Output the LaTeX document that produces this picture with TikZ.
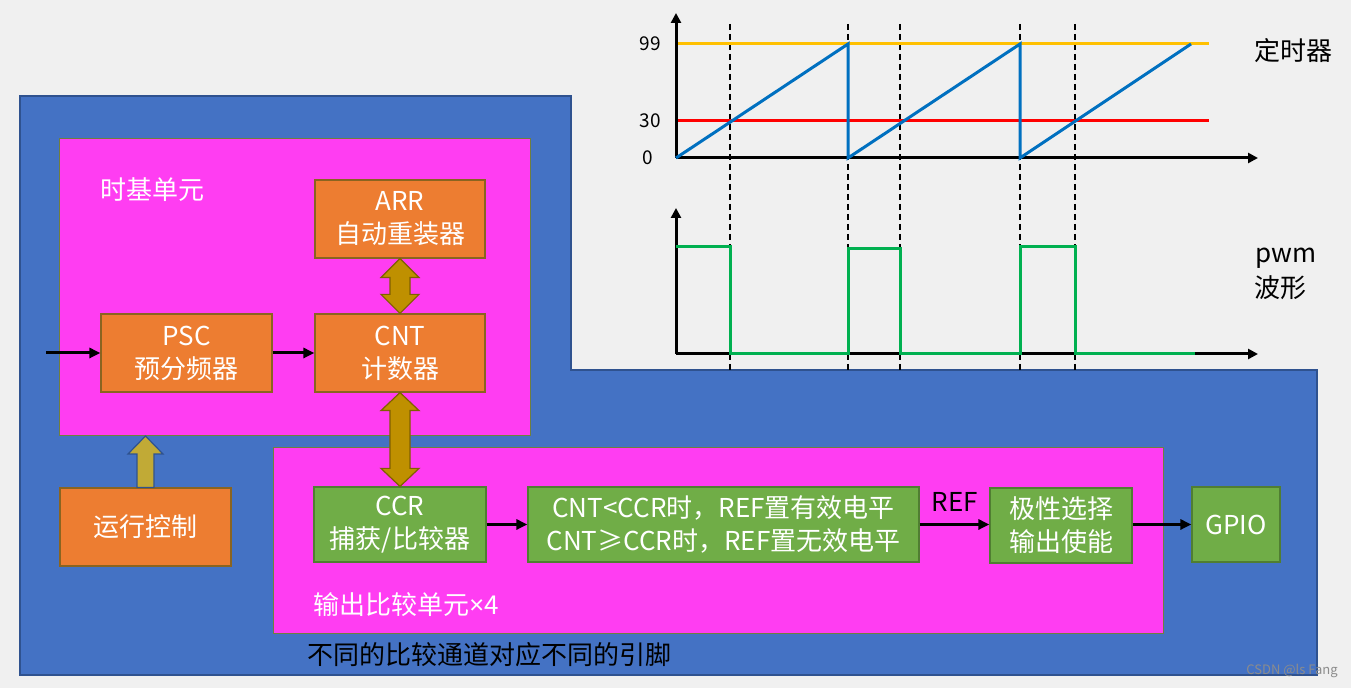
\documentclass[tikz,border=0pt]{standalone}
\usepackage{fontspec}
\setmainfont{Noto Sans CJK SC}
\newfontfamily\latinf{Noto Sans}
\usetikzlibrary{calc,arrows.meta}
\definecolor{bgc}{HTML}{F0F0F0}
\definecolor{blueC}{HTML}{4472C4}
\definecolor{blueD}{HTML}{2F528F}
\definecolor{pinkC}{HTML}{FF3DF2}
\definecolor{pinkD}{HTML}{6F7F3F}
\definecolor{orangeC}{HTML}{ED7D31}
\definecolor{orangeD}{HTML}{8A6420}
\definecolor{greenC}{HTML}{70AD47}
\definecolor{greenD}{HTML}{507E32}
\definecolor{goldC}{HTML}{BF9000}
\definecolor{goldD}{HTML}{7F6000}
\definecolor{oliveC}{HTML}{C1AA36}
\definecolor{yelC}{HTML}{FFC000}
\definecolor{sawC}{HTML}{0070C0}
\definecolor{pwmC}{HTML}{00B050}
\tikzset{
  pinkbox/.style={draw=pinkD, fill=pinkC, line width=0.5pt, anchor=north west, inner sep=0pt},
  obox/.style={draw=orangeD, fill=orangeC, line width=0.6pt, text=white, align=center, inner sep=0pt,
    font=\fontsize{13}{16.5}\selectfont},
  gbox/.style={draw=greenD, fill=greenC, line width=0.6pt, text=white, align=center, inner sep=0pt,
    font=\fontsize{13}{16.5}\selectfont},
  lbl/.style={inner sep=0pt, font=\fontsize{13}{16}\selectfont},
  flow/.style={line width=1.5pt, -{Triangle[length=5.5pt,width=5pt]}},
  fatgold/.style={fill=goldC, draw=goldD, line width=0.6pt, line join=miter},
  fatolive/.style={fill=oliveC, draw=blueD, line width=0.6pt, line join=miter},
  axis/.style={line width=1.5pt, -{Triangle[length=5pt,width=5pt]}},
  guide/.style={line width=0.8pt, dash pattern=on 3pt off 2pt},
  sig/.style={line width=1.5pt},
}
\begin{document}
\begin{tikzpicture}[x=0.5pt,y=-0.5pt]
\useasboundingbox (0,0) rectangle (1351,688);
\fill[bgc] (0,0) rectangle (1351,688);
% blue background region
\filldraw[fill=blueC, draw=blueD, line width=0.6pt]
  (20,96) -- (571,96) -- (571,370) -- (1317,370) -- (1317,675) -- (20,675) -- cycle;
% pink units
\node[pinkbox, minimum width=235.5pt, minimum height=148.5pt] (tb) at (59,138) {};
\node[pinkbox, minimum width=445pt, minimum height=93pt] (oc) at (273,447) {};
\node[lbl, text=white, anchor=west] (tblabel) at (100,190) {时基单元};
\node[lbl, text=white, anchor=west] (oclabel) at (313,605) {输出比较单元{\latinf ×}4};
\node[lbl, text=black, anchor=west] (note) at (307,655) {不同的比较通道对应不同的引脚};
% boxes
\node[obox, minimum width=85pt, minimum height=39pt] (arr) at (400,219) {ARR\\自动重装器};
\node[obox, minimum width=85.5pt, minimum height=39pt] (psc) at (186.5,353) {PSC\\预分频器};
\node[obox, minimum width=85pt, minimum height=39pt] (cnt) at (400,353) {CNT\\计数器};
\node[obox, minimum width=85.5pt, minimum height=39pt] (run) at (145.5,527) {运行控制};
\node[gbox, minimum width=86pt, minimum height=37.5pt] (ccr) at (400,524.5) {CCR\\捕获/比较器};
\node[gbox, minimum width=195.5pt, minimum height=37.5pt] (cond) at (723.5,524.5) {CNT<CCR时，REF置有效电平\\CNT≥CCR时，REF置无效电平};
\node[gbox, minimum width=71pt, minimum height=37.5pt] (pol) at (1061,525.5) {极性选择\\输出使能};
\node[gbox, minimum width=44pt, minimum height=37.5pt] (gpio) at (1236,524.5) {GPIO};
\node[lbl, text=black] (ref) at (955,502) {REF};
% flow arrows
\coordinate (in) at (46,353);
\draw[flow] (in) -- (psc.west);
\draw[flow] (psc.east) -- (cnt.west);
\draw[flow] (ccr.east) -- (cond.west);
\draw[flow] (cond.east) -- (pol.west |- cond.east);
\draw[flow] (pol.east |- gpio.west) -- (gpio.west);
% fat double arrows
\filldraw[fatgold] (arr.south) -- ++(19,19) -- ++(-9,0) -- ($(cnt.north)+(10,-19)$) -- ++(9,0)
  -- (cnt.north) -- ++(-19,-19) -- ++(9,0) -- ($(arr.south)+(-10,19)$) -- ++(-9,0) -- cycle;
\filldraw[fatgold] (cnt.south) -- ++(19,18) -- ++(-9,0) -- ($(ccr.north)+(10,-18)$) -- ++(9,0)
  -- (ccr.north) -- ++(-19,-18) -- ++(9,0) -- ($(cnt.south)+(-10,18)$) -- ++(-9,0) -- cycle;
% up arrow from run control
\coordinate (runtip) at (run.north |- tb.south);
\filldraw[fatolive] (runtip) -- ++(17.5,18) -- ++(-9,0) -- ($(run.north)+(8.5,0)$) -- ++(-17,0)
  -- ($(runtip)+(-8.5,18)$) -- ++(-9,0) -- cycle;
% watermark
\node[inner sep=0pt, anchor=west, text=black!45, font=\fontsize{6.5}{7}\selectfont] (wm) at (1246,671) {CSDN @ls Fang};
% ---- timing charts ----
\foreach \gx in {730,848,900,1020,1075} \draw[guide] (\gx,24) -- (\gx,373);
% top chart
\draw[sig, yelC] (676,44) -- (1209,44);
\draw[sig, red] (676,121) -- (1209,121);
\draw[axis] (676,158) -- (676,13);
\draw[axis] (676,158) -- (1258,158);
\draw[sig, sawC, line join=miter] (676,158) -- (848,44) -- (848,158) -- (1020,44) -- (1020,158) -- (1191,44);
\node[inner sep=0pt, font=\fontsize{9.5}{10}\selectfont] (l99) at (650,44) {99};
\node[inner sep=0pt, font=\fontsize{9.5}{10}\selectfont] (l30) at (650,121) {30};
\node[inner sep=0pt, font=\fontsize{9.5}{10}\selectfont] (l0) at (648,158) {0};
\node[lbl, anchor=west] (timer) at (1254,51) {定时器};
% bottom chart
\draw[axis] (676,354) -- (676,208);
\draw[axis] (676,354) -- (1258,354);
\draw[sig, pwmC] (676,247) -- (730,247) -- (730,354) -- (848,354) -- (848,249) -- (900,249) -- (900,354)
  -- (1020,354) -- (1020,247) -- (1075,247) -- (1075,354) -- (1195,354);
\node[lbl, anchor=base west] (pwm) at (1255,263) {pwm};
\node[lbl, anchor=west] (wave) at (1254,288) {波形};
\end{tikzpicture}
\end{document}
